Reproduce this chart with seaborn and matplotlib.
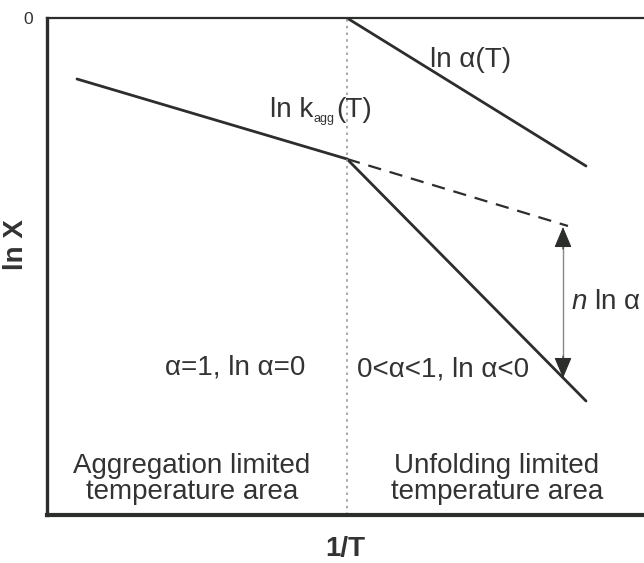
import matplotlib
matplotlib.use("Agg")
import matplotlib.pyplot as plt
import seaborn as sns

sns.set_style("white")
plt.rcParams['font.family'] = ['Liberation Sans', 'DejaVu Sans']
plt.rcParams['mathtext.fontset'] = 'custom'
plt.rcParams['mathtext.rm'] = 'Liberation Sans'
plt.rcParams['mathtext.it'] = 'Liberation Sans:italic'

# schematic data (arbitrary units: x = 1/T, y = ln X)
kagg_x = [30, 300]
kagg_y = [-61, -141]
extrap_x = [300, 521]
extrap_y = [-141, -208]
steep_x = [300, 539]
steep_y = [-141, -383]
alpha_x = [300, 539]
alpha_y = [0, -148]
boundary_x = 300
arrow_x = 516
arrow_top = -209
arrow_bottom = -360
y_ticks = [0]
y_tick_labels = ["0"]

dark = "#2b2e2b"
txt = "#333333"

fig = plt.figure(figsize=(6.44, 5.63), dpi=100)
ax = fig.add_axes([47/644, 48/563, 597/644, 497/563])

sns.lineplot(x=kagg_x, y=kagg_y, ax=ax, color=dark, lw=2.0)
sns.lineplot(x=extrap_x, y=extrap_y, ax=ax, color=dark, lw=1.6, linestyle=(0, (6, 4)))
sns.lineplot(x=steep_x, y=steep_y, ax=ax, color=dark, lw=2.0)
sns.lineplot(x=alpha_x, y=alpha_y, ax=ax, color=dark, lw=2.0)
ax.axvline(boundary_x, color="#999999", lw=1.2, linestyle=(0, (1.5, 2.5)))

ax.set_xlim(0, 597)
ax.set_ylim(-497, 0)

# double-headed arrow: thin gray shaft, dark heads
ax.plot([arrow_x, arrow_x], [arrow_top - 15, arrow_bottom + 15], color="#888888", lw=1.0)
head = dict(arrowstyle="-|>,head_length=1.3,head_width=0.55", color=dark, lw=0.8,
            shrinkA=0, shrinkB=0)
ax.annotate("", xy=(arrow_x, arrow_top), xytext=(arrow_x, arrow_top - 22), arrowprops=head)
ax.annotate("", xy=(arrow_x, arrow_bottom), xytext=(arrow_x, arrow_bottom + 22), arrowprops=head)

fs = 20

# ln k_agg(T) built from pieces so the subscript is tiny, as in the reference
t1 = ax.text(223, -99, "ln k", fontsize=fs, color=txt, va="baseline", ha="left")
fig.canvas.draw()
r = fig.canvas.get_renderer()
bb = t1.get_window_extent(r)
inv = ax.transData.inverted()
x1 = inv.transform((bb.x1 + 0.5, 0))[0]
t2 = ax.text(x1, -104, "agg", fontsize=9, color=txt, va="baseline", ha="left")
fig.canvas.draw()
bb2 = t2.get_window_extent(r)
x2 = inv.transform((bb2.x1 + 1, 0))[0]
ax.text(x2, -99, "(T)", fontsize=fs, color=txt, va="baseline", ha="left")

ax.text(383, -42, "ln α(T)", fontsize=fs, color=txt, va="center", ha="left")
ax.text(524, -284, r"$n$ ln α", fontsize=fs, color=txt, va="center", ha="left")
ax.text(118, -349, "α=1, ln α=0", fontsize=fs, color=txt, va="center", ha="left")
ax.text(310, -352, "0<α<1, ln α<0", fontsize=fs, color=txt, va="center", ha="left")
ax.text(145, -461, "Aggregation limited\ntemperature area", fontsize=fs, color=txt,
        va="center", ha="center", linespacing=1.0)
ax.text(450, -461, "Unfolding limited\ntemperature area", fontsize=fs, color=txt,
        va="center", ha="center", linespacing=1.0)

ax.set_xticks([])
ax.set_yticks(y_ticks)
ax.set_yticklabels(y_tick_labels, fontsize=12.5, color=txt)
ax.tick_params(axis="y", length=0, pad=10)

ax.set_xlabel("1/T", fontsize=fs, fontweight="bold", color=txt, labelpad=15)
ax.set_ylabel("")
fig.text(16/644, 1 - 245/563, "ln X", fontsize=fs, fontweight="bold", color=txt,
         rotation=90, ha="center", va="center")

for s in ["left", "bottom", "top"]:
    ax.spines[s].set_visible(True)
    ax.spines[s].set_color(dark)
ax.spines["left"].set_linewidth(2.4)
ax.spines["bottom"].set_linewidth(3.0)
ax.spines["top"].set_linewidth(1.6)
ax.spines["right"].set_visible(False)

fig.savefig("out.png", dpi=100)
